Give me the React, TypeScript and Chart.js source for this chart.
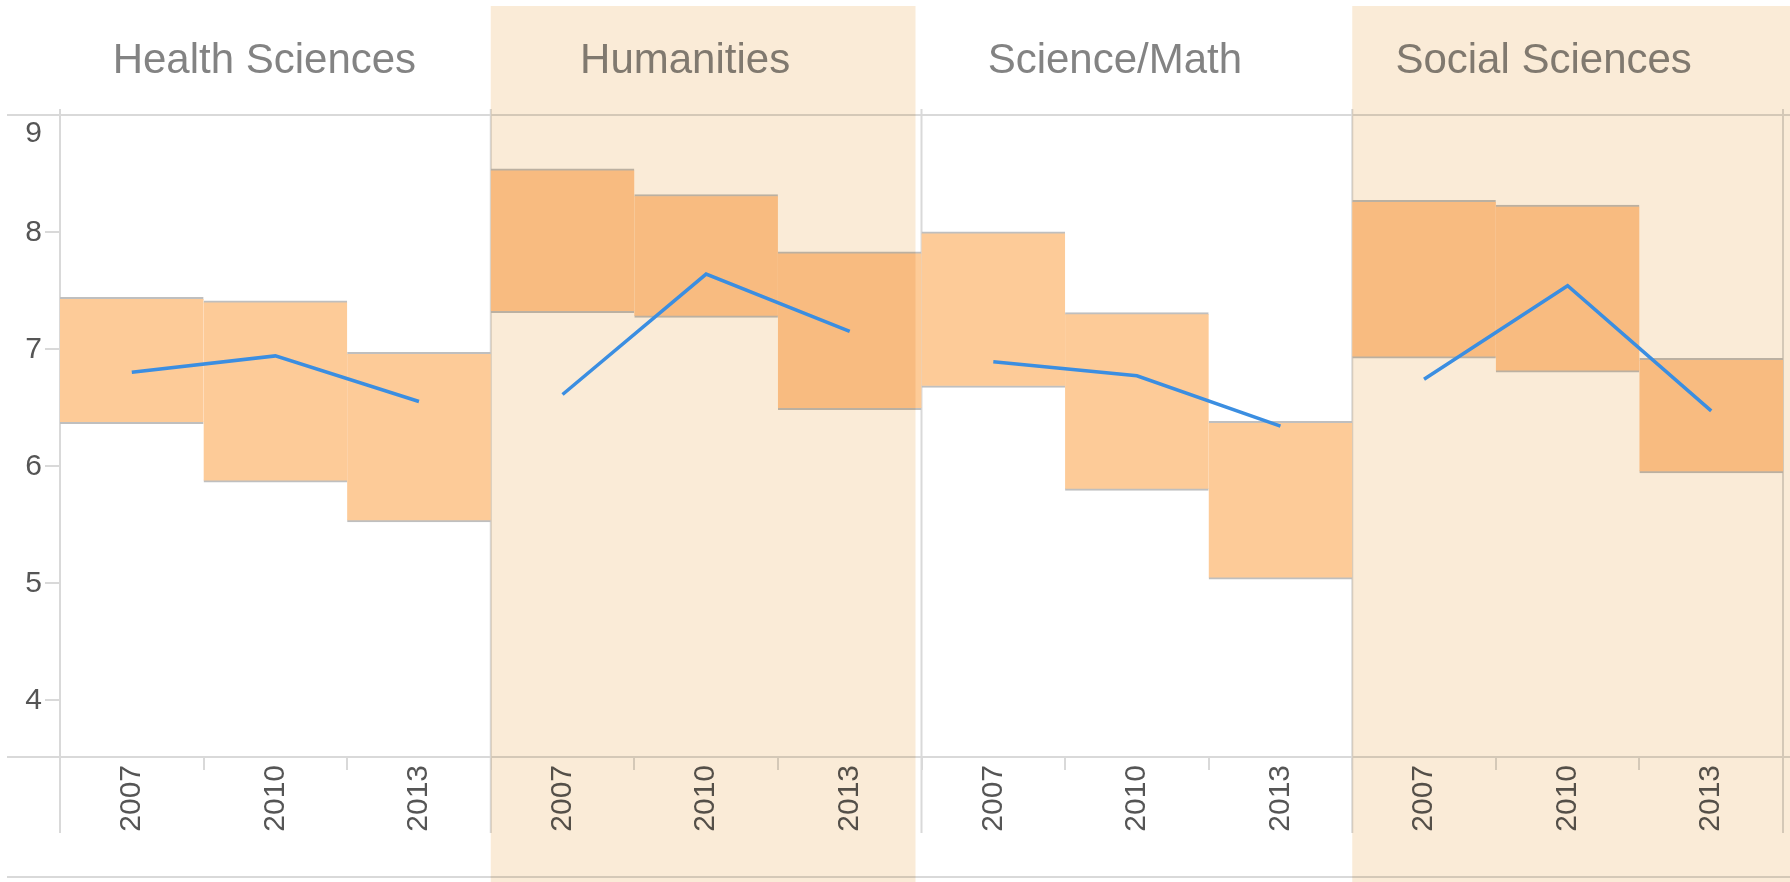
import React, { useEffect, useRef } from 'react';
import { Chart, registerables } from 'chart.js';

Chart.register(...registerables);

const panels = ['Health Sciences', 'Humanities', 'Science/Math', 'Social Sciences'];
const years = ['2007', '2010', '2013'];
const yTicks = [4, 5, 6, 7, 8, 9];
const yMin = 3.51;
const yMax = 9;
const shadedPanels = [1, 3];

const healthLow = [6.36, 5.86, 5.52];
const healthHigh = [7.44, 7.41, 6.97];
const healthMean = [6.8, 6.94, 6.55];

const humanitiesLow = [7.31, 7.27, 6.48];
const humanitiesHigh = [8.54, 8.32, 7.83];
const humanitiesMean = [6.61, 7.64, 7.15];

const scienceLow = [6.67, 5.79, 5.03];
const scienceHigh = [8.0, 7.31, 6.38];
const scienceMean = [6.89, 6.77, 6.34];

const socialLow = [6.92, 6.8, 5.94];
const socialHigh = [8.27, 8.23, 6.92];
const socialMean = [6.74, 7.54, 6.47];

const FONT = '"Liberation Sans", Arial, Helvetica, sans-serif';
const LINE_GREY = '#d9d9d9';
const titleShift = [-11, -21, -22, -24];

export default function App() {
  const ref = useRef<HTMLCanvasElement | null>(null);

  useEffect(() => {
    if (!ref.current) return;
    const labels = panels.flatMap((p) => years.map((y) => `${p} ${y}`));
    const lows = [...healthLow, ...humanitiesLow, ...scienceLow, ...socialLow];
    const highs = [...healthHigh, ...humanitiesHigh, ...scienceHigh, ...socialHigh];
    const means = [healthMean, humanitiesMean, scienceMean, socialMean];
    const barData = lows.map((l, i) => [l, highs[i]]);

    const lineSets = means.map((m, p) => {
      const d: (number | null)[] = Array(labels.length).fill(null);
      m.forEach((v, k) => (d[p * 3 + k] = v));
      return {
        type: 'line' as const,
        data: d,
        borderColor: '#3b8ee1',
        borderWidth: 3.5,
        pointRadius: 0,
        fill: false,
        spanGaps: false,
        order: 1,
      };
    });

    const bnd = (chart: any, i: number) => {
      const x = chart.scales.x;
      const half = (x.getPixelForValue(1) - x.getPixelForValue(0)) / 2;
      return i < labels.length ? x.getPixelForValue(i) - half : x.getPixelForValue(labels.length - 1) + half;
    };

    const panelPlugin = {
      id: 'panelPlugin',
      beforeDatasetsDraw(chart: any) {
        const ctx = chart.ctx;
        const y = chart.scales.y;
        const W = chart.width;
        ctx.save();
        ctx.strokeStyle = LINE_GREY;
        ctx.lineWidth = 2;
        const hLines = [Math.round(y.getPixelForValue(yMax)), chart.chartArea.bottom, 877];
        hLines.forEach((yy: number) => {
          ctx.beginPath();
          ctx.moveTo(7, yy);
          ctx.lineTo(W, yy);
          ctx.stroke();
        });
        for (let p = 0; p <= panels.length; p++) {
          const bx = bnd(chart, p * 3);
          ctx.beginPath();
          ctx.moveTo(bx, 109);
          ctx.lineTo(bx, 833);
          ctx.stroke();
        }
        ctx.font = `42px ${FONT}`;
        ctx.textAlign = 'center';
        ctx.textBaseline = 'alphabetic';
        ctx.fillStyle = '#838383';
        panels.forEach((t, p) => {
          const cx = (bnd(chart, p * 3) + bnd(chart, p * 3 + 3)) / 2 + titleShift[p];
          ctx.fillText(t, cx, 73);
        });
        ctx.font = `30px ${FONT}`;
        ctx.textAlign = 'right';
        ctx.textBaseline = 'middle';
        ctx.fillStyle = '#555555';
        yTicks.forEach((v) => {
          let py = y.getPixelForValue(v);
          if (v === yMax) py += 18;
          ctx.fillText(String(v), 42, py + 1);
        });
        ctx.restore();
      },
      afterDatasetDraw(chart: any, args: any) {
        if (args.index !== 0) return;
        const ctx = chart.ctx;
        ctx.save();
        ctx.globalCompositeOperation = 'multiply';
        ctx.fillStyle = '#faebd7';
        shadedPanels.forEach((p) => {
          const x0 = bnd(chart, p * 3);
          const x1 = p * 3 + 3 >= labels.length ? chart.width : bnd(chart, p * 3 + 3) - 6;
          ctx.fillRect(x0, 6, x1 - x0, chart.height - 6);
        });
        ctx.restore();
      },
    };

    const chart = new Chart(ref.current, {
      type: 'bar',
      data: {
        labels,
        datasets: [
          {
            type: 'bar',
            data: barData as any,
            backgroundColor: '#fdcb98',
            borderColor: '#bfbfbf',
            borderWidth: { top: 2, bottom: 2, left: 0, right: 0 },
            borderSkipped: false,
            barPercentage: 1,
            categoryPercentage: 1,
            order: 2,
          },
          ...lineSets,
        ] as any,
      },
      options: {
        animation: false,
        responsive: true,
        maintainAspectRatio: false,
        layout: { padding: { left: 0, top: 115, right: 7, bottom: 0 } },
        plugins: { legend: { display: false }, tooltip: { enabled: false } },
        scales: {
          x: {
            type: 'category',
            offset: true,
            grid: {
              display: true,
              drawOnChartArea: false,
              drawTicks: true,
              tickLength: 13,
              color: LINE_GREY,
              tickColor: LINE_GREY,
              lineWidth: 2,
              offset: true,
            },
            border: { display: false },
            ticks: {
              autoSkip: false,
              minRotation: 90,
              maxRotation: 90,
              padding: -5,
              color: '#555555',
              font: { size: 30, family: FONT },
              callback: (_v: any, i: number) => years[i % years.length],
            },
            afterFit: (s: any) => {
              s.height = 125;
            },
          },
          y: {
            min: yMin,
            max: yMax,
            afterBuildTicks: (s: any) => {
              s.ticks = yTicks.map((v) => ({ value: v }));
            },
            grid: {
              display: true,
              drawOnChartArea: false,
              drawTicks: true,
              tickLength: 15,
              color: LINE_GREY,
              tickColor: LINE_GREY,
              lineWidth: 2,
            },
            border: { display: false },
            ticks: { display: false },
            afterFit: (s: any) => {
              s.width = 60;
            },
          },
        },
      } as any,
      plugins: [panelPlugin],
    });
    return () => chart.destroy();
  }, []);

  return (
    <div style={{ position: 'absolute', left: 0, top: 0, width: 1790, height: 882 }}>
      <canvas ref={ref} />
    </div>
  );
}
